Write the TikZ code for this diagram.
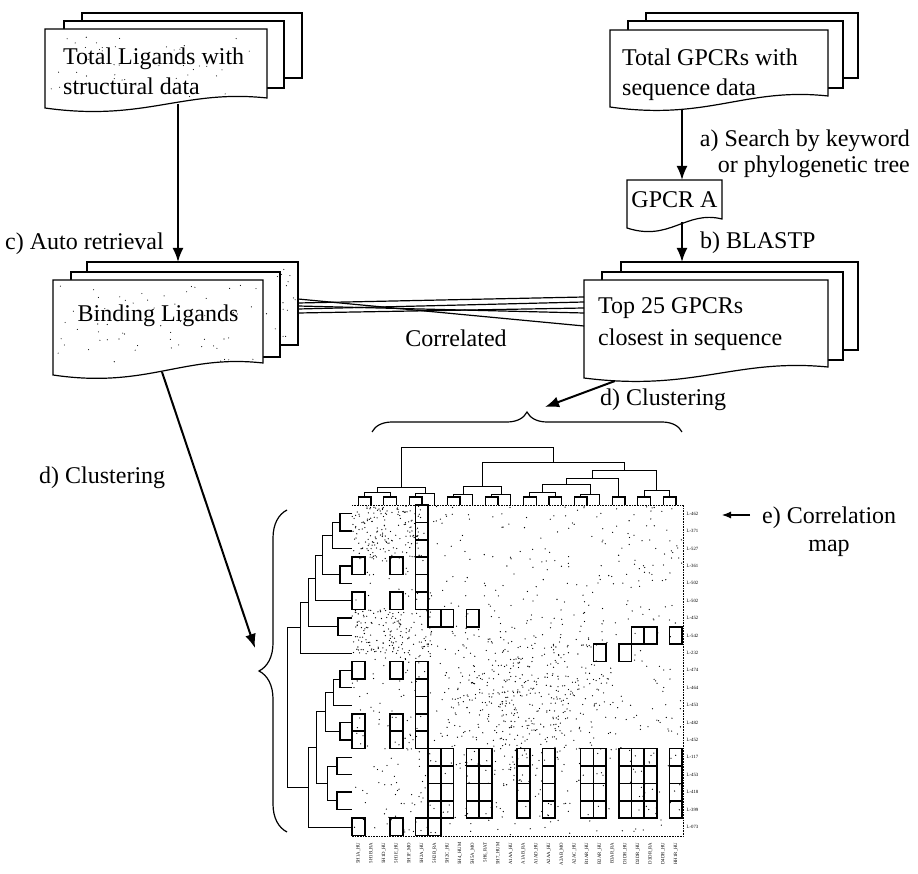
\documentclass[tikz,border=0pt]{standalone}
\usepackage{fontspec}
\setmainfont{Liberation Serif}
\usetikzlibrary{arrows.meta,decorations.pathreplacing}
% x0, top, x1, y-left-bottom, y-right-bottom
\newcommand{\docfront}[5]{%
  \pgfmathsetmacro{\dwid}{#3-#1}%
  \pgfmathsetmacro{\dxA}{#1+0.45*\dwid}%
  \pgfmathsetmacro{\dxB}{#1+0.62*\dwid}%
  \pgfmathsetmacro{\dyA}{#4+14}%
  \pgfmathsetmacro{\dyB}{#5-9}%
  \draw[pg] (#1,#4) -- (#1,#2) -- (#3,#2) -- (#3,#5) .. controls (\dxB,\dyB) and (\dxA,\dyA) .. (#1,#4) -- cycle;}
\newcommand{\pagerect}[4]{\draw[pg] (#1,#2) rectangle (#3,#4);}
% left dendrogram join: style, x, y1, x1, y2, x2
\newcommand{\ljoin}[6]{\draw[#1] (#4,#3) -- (#2,#3) -- (#2,#5) -- (#6,#5);}
% top dendrogram join: style, y, x1, y1, x2, y2
\newcommand{\tjoin}[6]{\draw[#1] (#3,#4) -- (#3,#2) -- (#5,#2) -- (#5,#6);}
\newcommand{\hcell}[2]{\draw[cell] ({352+12.7*#1},{505+17.4*#2}) rectangle ++(12.7,17.4);}
\begin{document}
\begin{tikzpicture}[x=1pt,y=-1pt,
  pg/.style={draw=black,line width=1.2pt,fill=white},
  txt/.style={font=\fontsize{24}{30}\selectfont,inner sep=0pt},
  flow/.style={line width=2pt,-{Latex[length=14pt,width=11pt]}},
  thinarrow/.style={line width=1.1pt,-{Latex[length=9pt,width=7pt]}},
  corr/.style={line width=1.2pt},
  brc/.style={decorate,decoration={brace,amplitude=#1},line width=1.2pt},
  dn/.style={line width=0.7pt},
  dk/.style={line width=1.3pt},
  cell/.style={draw=black,line width=1.6pt},
  tinyt/.style={font=\fontsize{4.8}{5}\selectfont,inner sep=0.4pt},
  edge/.style={densely dotted,line width=0.6pt}
]
\useasboundingbox (0,0) rectangle (918,874);
\fill[white] (0,0) rectangle (918,874);

% ---------- Total Ligands stack ----------
\pagerect{82}{13}{302}{78}
\pagerect{64}{21}{284}{88}
\docfront{45}{29}{267}{108}{98}
\pgfmathsetseed{11}
\foreach \k in {1,...,45}{\pgfmathsetmacro{\qx}{50+212*rnd}\pgfmathsetmacro{\qy}{34+66*rnd}\fill (\qx,\qy) circle (0.55pt);}
\node[txt,anchor=base west] (tl1) at (63,65) {Total Ligands with};
\node[txt,anchor=base west] (tl2) at (63,95) {structural data};
\coordinate (tlout) at (178,104);

% ---------- Total GPCRs stack ----------
\pagerect{646}{13}{858}{78}
\pagerect{628}{21}{843}{88}
\docfront{610}{30}{828}{107}{96}
\node[txt,anchor=base west] (tr1) at (622,66) {Total GPCRs with};
\node[txt,anchor=base west] (tr2) at (622,96) {sequence data};
\coordinate (trout) at (682,110);

% ---------- GPCR A ----------
\docfront{627}{180}{722}{228}{219}
\node[txt,anchor=base] (gpcra) at (674.5,208) {GPCR A};
\coordinate (gain) at (682,180);
\coordinate (gaout) at (682,222);

% ---------- Binding Ligands stack ----------
\pagerect{87}{262}{298}{345}
\pagerect{71}{272}{280}{357}
\docfront{53}{280}{263}{375}{363}
\foreach \k in {1,...,60}{\pgfmathsetmacro{\qx}{58+200*rnd}\pgfmathsetmacro{\qy}{285+78*rnd}\fill (\qx,\qy) circle (0.55pt);}
\foreach \k in {1,...,18}{\pgfmathsetmacro{\qx}{266+30*rnd}\pgfmathsetmacro{\qy}{266+76*rnd}\fill (\qx,\qy) circle (0.55pt);}
\node[txt,anchor=base] (bind) at (158,322) {Binding Ligands};
\coordinate (bindin) at (178,262);
\coordinate (bindout) at (162,372);

% ---------- Top 25 stack ----------
\pagerect{621}{262}{858}{350}
\pagerect{602}{272}{843}{360}
\docfront{584}{280}{828}{378}{367}
\node[txt,anchor=base west] (t25a) at (598,314) {Top 25 GPCRs};
\node[txt,anchor=base west] (t25b) at (598,346) {closest in sequence};
\coordinate (t25in) at (682,262);
\coordinate (t25out) at (615,381);

% ---------- correlated lines ----------
\coordinate (cl1) at (298,299); \coordinate (cr1) at (584,326);
\coordinate (cl2) at (298,303); \coordinate (cr2) at (584,297);
\coordinate (cl3) at (298,306); \coordinate (cr3) at (584,313);
\coordinate (cl4) at (298,309); \coordinate (cr4) at (584,302);
\coordinate (cl5) at (298,313); \coordinate (cr5) at (584,308);
\foreach \i in {1,...,5}{\draw[corr] (cl\i) -- (cr\i);}
\node[txt,anchor=base] (corrl) at (456,347) {Correlated};

% ---------- arrows and labels ----------
\draw[flow] (tlout) -- (bindin);
\node[txt,anchor=base west] (lc) at (5,250) {c) Auto retrieval};
\draw[flow] (trout) -- (gain);
\node[txt,anchor=base east] (la1) at (910,147) {a) Search by keyword};
\node[txt,anchor=base east] (la2) at (910,173) {or phylogenetic tree};
\draw[flow] (gaout) -- (t25in);
\node[txt,anchor=base west] (lb) at (700,249) {b) BLASTP};

\coordinate (topbrtip) at (545,407);
\draw[flow] (t25out) -- (topbrtip);
\node[txt,anchor=base west] (ld1) at (600,406) {d) Clustering};
\coordinate (leftbrtip) at (255,648);
\draw[flow] (bindout) -- (leftbrtip);
\node[txt,anchor=base west] (ld2) at (39,483) {d) Clustering};

% ---------- braces ----------
\draw[brc=20] (372,432) -- (682,432);
\draw[brc=28] (287,832) -- (287,510);

% ---------- matrix speckle ----------
\pgfmathsetseed{4242}
\foreach \k in {1,...,750}{\pgfmathsetmacro{\qx}{352+330*rnd}\pgfmathsetmacro{\qy}{506+329*rnd}\fill (\qx,\qy) circle (0.65pt);}
\foreach \k in {1,...,380}{\pgfmathsetmacro{\qx}{430+95*(rnd+rnd)}\pgfmathsetmacro{\qy}{610+90*(rnd+rnd)}\fill (\qx,\qy) circle (0.65pt);}
\foreach \k in {1,...,140}{\pgfmathsetmacro{\qx}{352+70*rnd}\pgfmathsetmacro{\qy}{506+55*rnd}\fill (\qx,\qy) circle (0.65pt);}
\foreach \k in {1,...,130}{\pgfmathsetmacro{\qx}{352+80*rnd}\pgfmathsetmacro{\qy}{610+45*rnd}\fill (\qx,\qy) circle (0.65pt);}
\draw[edge] (352,505) -- (683.5,505) -- (683.5,836) -- (352,836);

% ---------- highlighted cells ----------
\foreach \r in {3,5,9,12,13,18}{\hcell{0}{\r}\hcell{3}{\r}}
\foreach \r in {0,1,2,3,4,5,9,10,11,12,13,18}{\hcell{5}{\r}}
\hcell{6}{18}
\hcell{6}{6}\hcell{7}{6}\hcell{9}{6}
\hcell{22}{7}\hcell{23}{7}\hcell{25}{7}
\hcell{19}{8}\hcell{21}{8}
\foreach \r in {14,15,16,17}{\foreach \c in {6,7,9,10,13,15,18,19,21,22,23,25}{\hcell{\c}{\r}}}

% ---------- left dendrogram ----------
\ljoin{dk}{340}{513.7}{352}{531.1}{352}
\ljoin{dn}{332}{522.4}{340}{548.5}{352}
\ljoin{dk}{340}{565.9}{352}{583.3}{352}
\ljoin{dn}{322}{535.45}{332}{574.6}{340}
\ljoin{dk}{338}{618.1}{352}{635.5}{352}
\ljoin{dn}{315}{555.0}{322}{600.7}{352}
\ljoin{dn}{308}{577.85}{315}{626.8}{338}
\ljoin{dn}{300}{602.3}{308}{652.9}{352}
\ljoin{dk}{340}{670.3}{352}{687.7}{352}
\ljoin{dn}{333}{679}{340}{705.1}{352}
\ljoin{dk}{340}{722.5}{352}{739.9}{352}
\ljoin{dn}{325}{692.05}{333}{731.2}{340}
\ljoin{dk}{337}{757.3}{352}{774.7}{352}
\ljoin{dk}{337}{792.1}{352}{809.5}{352}
\ljoin{dn}{327}{766}{337}{800.8}{337}
\ljoin{dn}{316}{711.6}{325}{783.4}{327}
\ljoin{dn}{308}{747.5}{316}{826.9}{352}
\ljoin{dn}{287}{627.6}{300}{787.2}{308}

% ---------- top dendrogram ----------
\tjoin{dk}{497}{358.35}{505}{371.05}{505}
\tjoin{dk}{497}{383.75}{505}{396.45}{505}
\tjoin{dn}{492}{364.7}{497}{390.1}{497}
\tjoin{dk}{497}{409.15}{505}{421.85}{505}
\tjoin{dn}{493}{415.5}{497}{434.55}{505}
\tjoin{dn}{487}{377.4}{492}{425.0}{493}
\tjoin{dk}{497}{447.25}{505}{459.95}{505}
\tjoin{dn}{494}{453.6}{497}{472.65}{505}
\tjoin{dk}{497}{485.35}{505}{498.05}{505}
\tjoin{dn}{494}{491.7}{497}{510.75}{505}
\tjoin{dn}{486}{463.1}{494}{501.2}{494}
\tjoin{dk}{497}{523.45}{505}{536.15}{505}
\tjoin{dk}{497}{548.85}{505}{561.55}{505}
\tjoin{dn}{492}{529.8}{497}{555.2}{497}
\tjoin{dk}{497}{574.25}{505}{586.95}{505}
\tjoin{dn}{494}{580.6}{497}{599.65}{505}
\tjoin{dn}{484}{542.5}{492}{590.1}{494}
\tjoin{dk}{497}{612.35}{505}{625.05}{505}
\tjoin{dn}{478}{566.3}{484}{618.7}{497}
\tjoin{dk}{497}{637.75}{505}{650.45}{505}
\tjoin{dk}{497}{663.15}{505}{675.85}{505}
\tjoin{dn}{490}{644.1}{497}{669.5}{497}
\tjoin{dn}{470}{592.5}{478}{656.8}{490}
\tjoin{dn}{462}{482.2}{486}{624.65}{470}
\tjoin{dn}{447}{401.2}{487}{553.4}{462}

% ---------- row labels ----------
\foreach \lab [count=\j from 0] in {L-462,L-371,L-527,L-361,L-502,L-502,L-452,L-542,L-232,L-474,L-464,L-453,L-482,L-452,L-117,L-453,L-418,L-399,L-073}{
  \node[tinyt,anchor=west] (row\j) at (686,{513.7+17.4*\j}) {\lab};}
% ---------- column labels ----------
\foreach \lab [count=\i from 0] in {5H1A\_HU,5H1B\_RA,5H1D\_HU,5H1E\_HU,5H1F\_MO,5H2A\_HU,5H2B\_RA,5H2C\_HU,5H4\_HUM,5H5A\_MO,5H6\_RAT,5H7\_HUM,A1AA\_HU,A1AB\_RA,A1AD\_HU,A2AA\_HU,A2AB\_MO,A2AC\_HU,B1AR\_HU,B2AR\_HU,B3AR\_RA,D1DR\_HU,D2DR\_HU,D3DR\_RA,D4DR\_HU,HH1R\_HU}{
  \node[tinyt,anchor=east,rotate=90] (col\i) at ({358.35+12.7*\i},842) {\lab};}

% ---------- correlation map label ----------
\node[txt,anchor=base west] (le1) at (762,523) {e) Correlation};
\node[txt,anchor=base] (le2) at (829,551) {map};
\coordinate (earrs) at (750,515);
\coordinate (earre) at (722,515);
\draw[thinarrow] (earrs) -- (earre);
\end{tikzpicture}
\end{document}
